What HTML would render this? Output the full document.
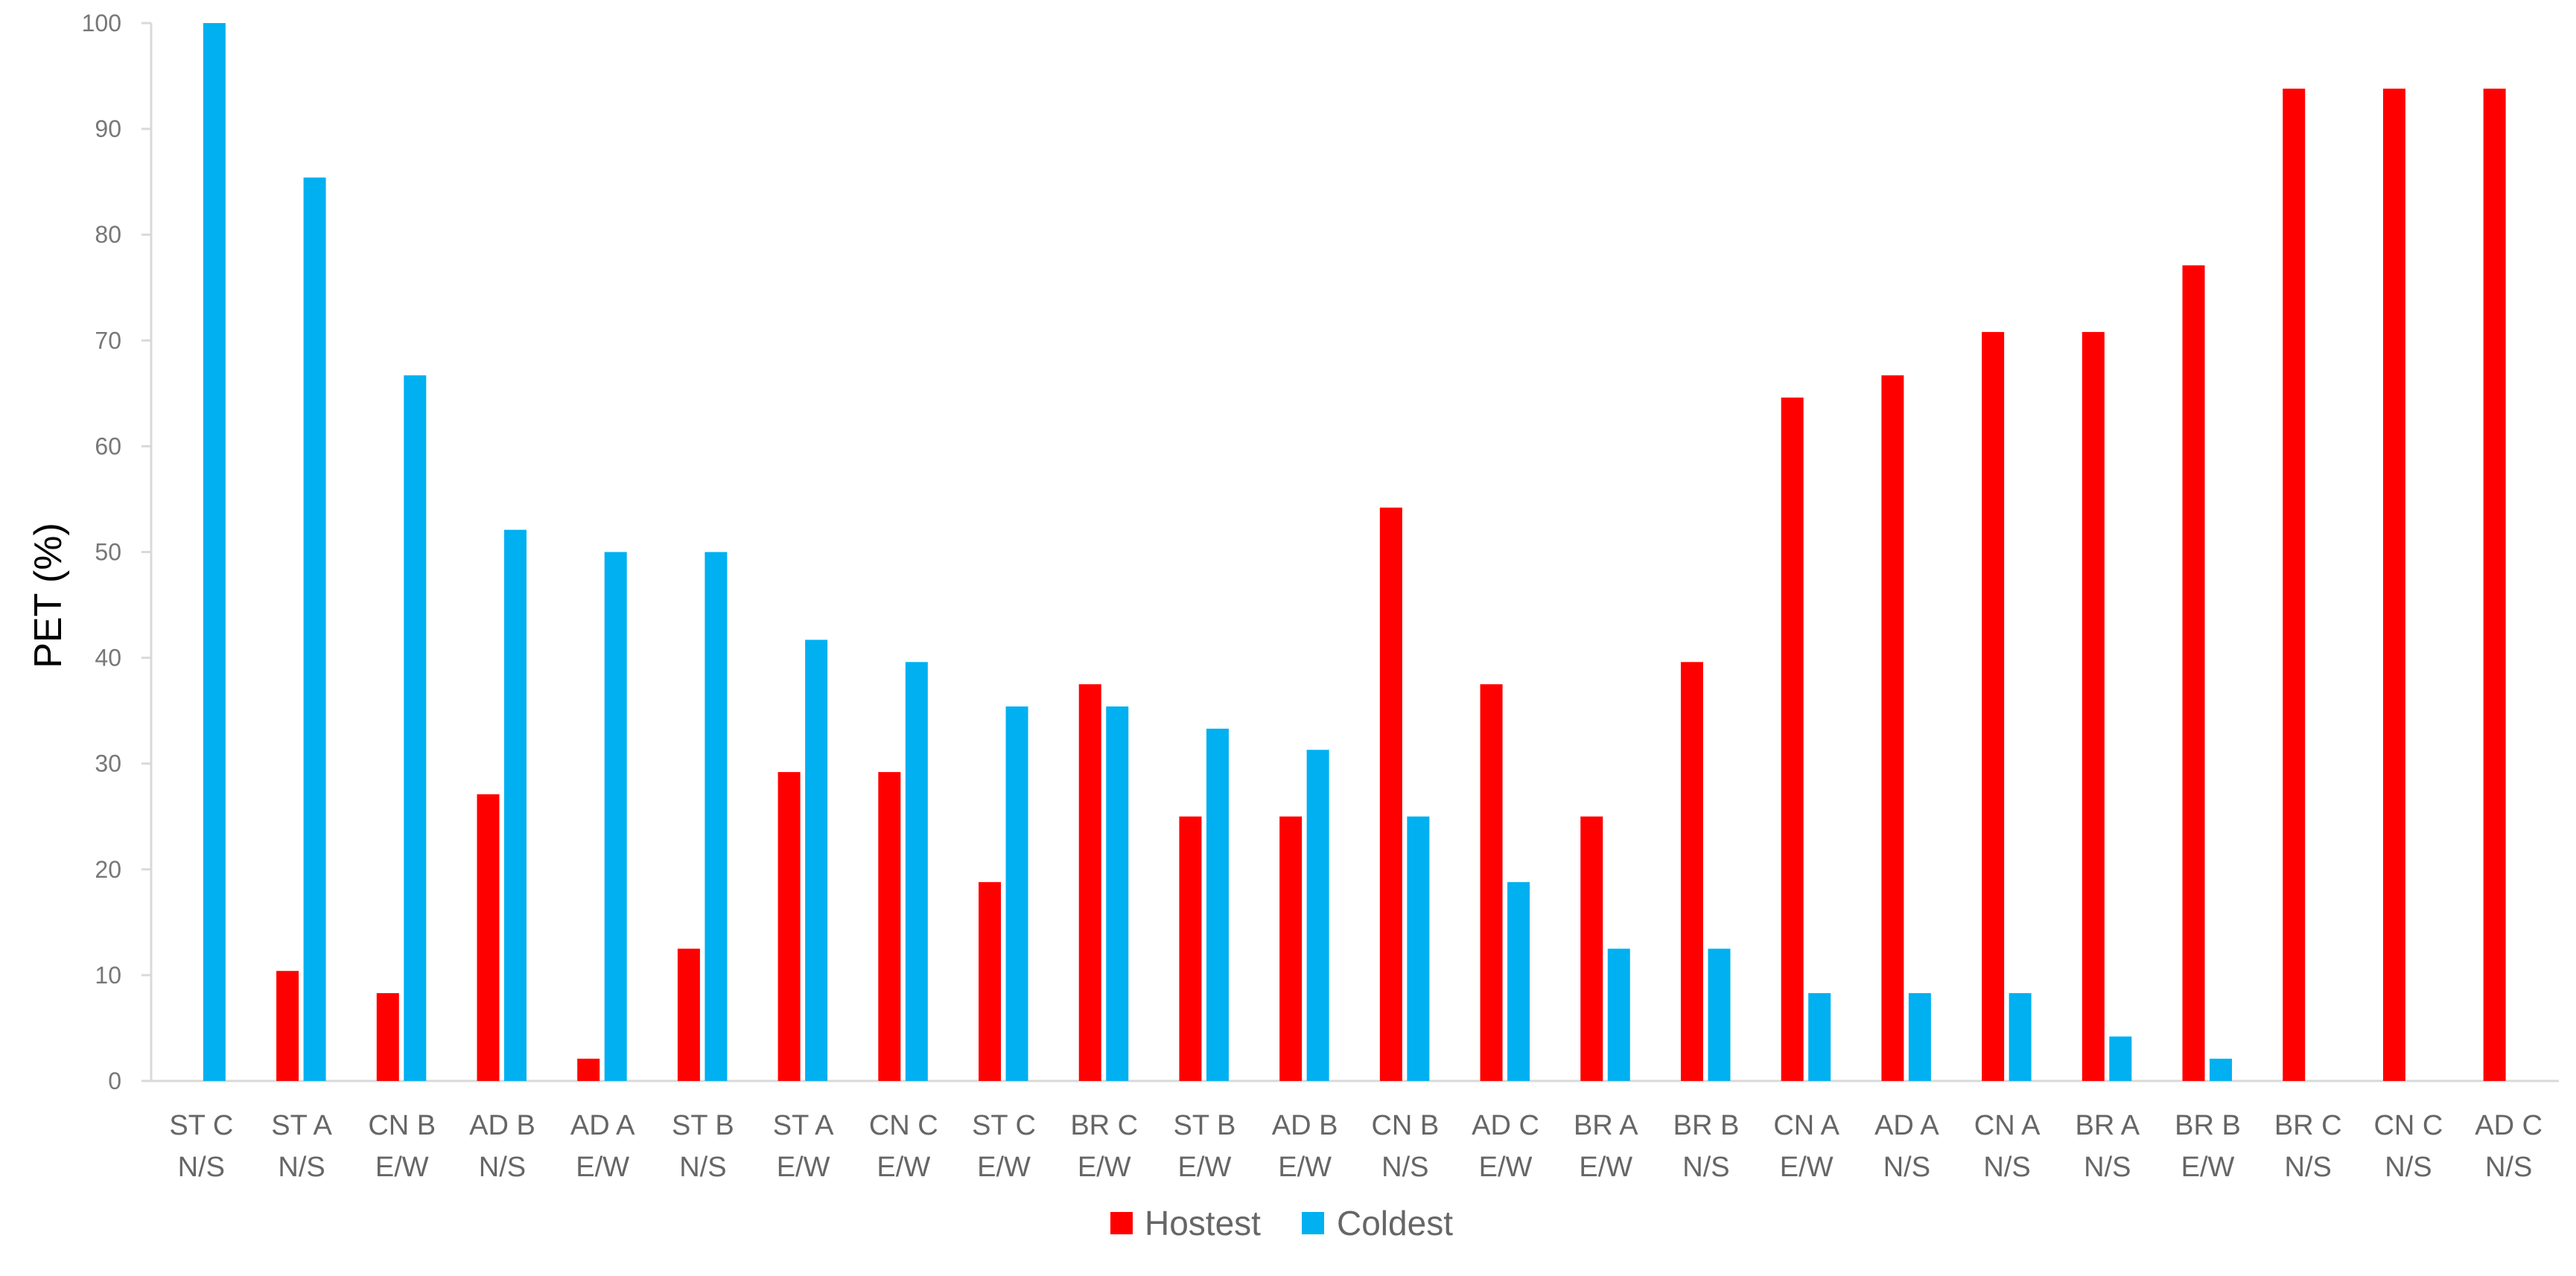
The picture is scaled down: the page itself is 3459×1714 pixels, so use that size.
<!DOCTYPE html>
<html><head><meta charset="utf-8"><style>
html,body{margin:0;padding:0;background:#fff}
svg{display:block;font-family:"Liberation Sans",sans-serif}
</style></head><body>
<svg id="chart" width="3459" height="1714" viewBox="0 0 3459 1714" xmlns="http://www.w3.org/2000/svg">
<g id="grid"></g>
<g id="bars"></g>
<g id="xlabels"></g>
<text transform="translate(82,800) rotate(-90)" text-anchor="middle" font-size="52" fill="#000">PET (%)</text>
<g>
<rect x="1491" y="1628" width="30" height="30" fill="#FF0000"/>
<text x="1537" y="1659" font-size="46" fill="#666">Hostest</text>
<rect x="1748" y="1628" width="30" height="30" fill="#00B0F0"/>
<text x="1795" y="1659" font-size="46" fill="#666">Coldest</text>
</g>
</svg>
<script>
const catLine1 = ["ST C","ST A","CN B","AD B","AD A","ST B","ST A","CN C","ST C","BR C","ST B","AD B","CN B","AD C","BR A","BR B","CN A","AD A","CN A","BR A","BR B","BR C","CN C","AD C"];
const catLine2 = ["N/S","N/S","E/W","N/S","E/W","N/S","E/W","E/W","E/W","E/W","E/W","E/W","N/S","E/W","E/W","N/S","E/W","N/S","N/S","N/S","E/W","N/S","N/S","N/S"];
const hostest = [0,10.4,8.3,27.1,2.1,12.5,29.2,29.2,18.8,37.5,25,25,54.2,37.5,25,39.6,64.6,66.7,70.8,70.8,77.1,93.8,93.8,93.8];
const coldest = [100,85.4,66.7,52.1,50,50,41.7,39.6,35.4,35.4,33.3,31.3,25,18.8,12.5,12.5,8.3,8.3,8.3,4.2,2.1,0,0,0];
const yTicks = [0,10,20,30,40,50,60,70,80,90,100];

const NS = "http://www.w3.org/2000/svg";
const X0 = 203, X1 = 3436, Y0 = 1452, Y100 = 31;
const step = (X1 - X0) / catLine1.length;
const xc = i => X0 + (i + 0.5) * step;
const y = v => Y0 - (v / 100) * (Y0 - Y100);
function mk(tag, attrs, parent) {
  const e = document.createElementNS(NS, tag);
  for (const k in attrs) e.setAttribute(k, attrs[k]);
  parent.appendChild(e);
  return e;
}
const grid = document.getElementById("grid");
const bars = document.getElementById("bars");
const xl = document.getElementById("xlabels");

yTicks.forEach(t => {
  const tk = mk("line", {x1: X0 - 13, x2: X0, y1: y(t), y2: y(t), stroke: "#d9d9d9", "stroke-width": 3}, grid);
  
  
  const lb = mk("text", {x: 163, y: y(t) + 11, "text-anchor": "end", "font-size": 32, fill: "#777"}, grid);
  lb.textContent = t;
  
  
});
const ya = mk("line", {x1: X0, x2: X0, y1: Y100, y2: Y0, stroke: "#d9d9d9", "stroke-width": 3}, grid);


const xa = mk("line", {x1: X0 - 13, x2: X1, y1: Y0, y2: Y0, stroke: "#d9d9d9", "stroke-width": 3}, grid);



catLine1.forEach((c, i) => {
  const cx = xc(i);
  if (hostest[i] > 0) {
    const r = mk("rect", {x: cx - 34, y: y(hostest[i]), width: 30, height: Y0 - y(hostest[i]), fill: "#FF0000"}, bars);
    
    
  }
  if (coldest[i] > 0) {
    const b = mk("rect", {x: cx + 2.5, y: y(coldest[i]), width: 30, height: Y0 - y(coldest[i]), fill: "#00B0F0"}, bars);
    
    
  }
  const t1 = mk("text", {x: cx, y: 1524, "text-anchor": "middle", "font-size": 38, fill: "#666"}, xl);
  t1.textContent = c;
  
  
  const t2 = mk("text", {x: cx, y: 1580, "text-anchor": "middle", "font-size": 38, fill: "#666"}, xl);
  t2.textContent = catLine2[i];
  
  
});
</script>
</body></html>
